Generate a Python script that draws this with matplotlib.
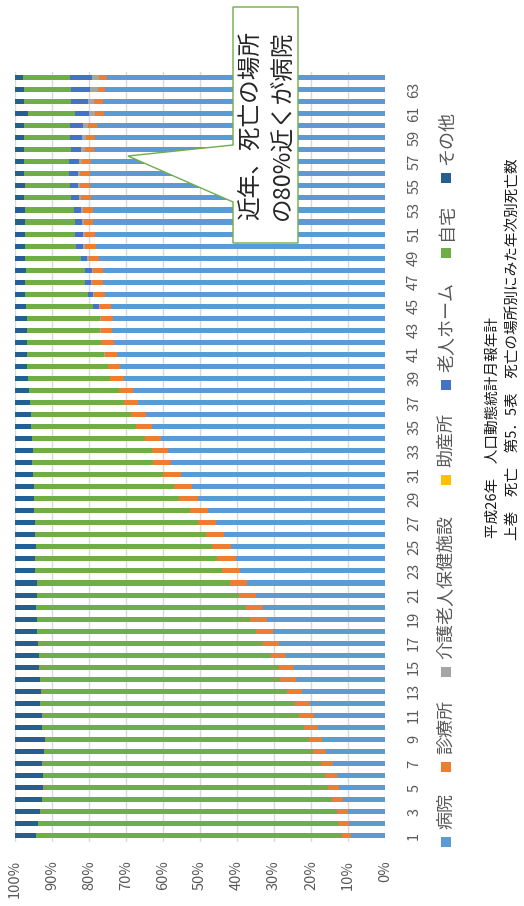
import matplotlib
matplotlib.use("Agg")
import matplotlib.pyplot as plt
import numpy as np
from matplotlib.patches import Polygon, Rectangle

plt.rcParams['font.family'] = ['Noto Sans CJK JP', 'DejaVu Sans']

# 年次（昭和26年=1 … 平成26年=64）
years = list(range(1, 65))

series_names = ["病院", "診療所", "介護老人保健施設", "助産所", "老人ホーム", "自宅", "その他"]
series_colors = ["#5B9BD5", "#ED7D31", "#A5A5A5", "#FFC000", "#4472C4", "#70AD47", "#255E91"]

hospital = [
    9.1, 9.7, 10.1, 11.4, 12.3, 13.0, 14.1, 16.0, 17.0, 18.2,
    19.3, 20.4, 22.3, 24.1, 24.6, 26.8, 28.6, 30.2, 31.9, 32.9,
    35.0, 37.2, 39.1, 40.4, 41.7, 43.5, 45.8, 47.8, 50.6, 52.2,
    55.0, 57.8, 58.7, 60.6, 63.0, 64.6, 66.7, 68.2, 70.6, 71.7,
    72.3, 73.3, 73.7, 73.6, 74.1, 75.8, 76.2, 76.1, 77.2, 78.2,
    78.5, 78.8, 79.0, 79.5, 79.8, 79.8, 79.4, 78.6, 78.4, 77.9,
    76.0, 76.2, 75.6, 75.2,
]
clinic = [
    2.6, 2.6, 2.8, 3.0, 3.1, 3.3, 3.3, 3.5, 3.6, 3.6,
    4.0, 3.9, 4.1, 4.2, 4.0, 3.9, 4.3, 4.6, 4.5, 4.6,
    4.5, 4.8, 5.0, 4.9, 5.0, 4.8, 4.8, 5.0, 5.0, 4.8,
    4.9, 4.8, 4.4, 4.4, 4.3, 4.1, 3.9, 3.8, 3.6, 3.3,
    3.5, 3.4, 3.1, 3.1, 3.0, 2.9, 3.0, 2.9, 2.9, 2.8,
    2.6, 2.6, 2.6, 2.7, 2.6, 2.5, 2.5, 2.5, 2.5, 2.4,
    2.4, 2.4, 2.1, 2.1,
]
care_facility = [
    0.0, 0.0, 0.0, 0.0, 0.0, 0.0, 0.0, 0.0, 0.0, 0.0,
    0.0, 0.0, 0.0, 0.0, 0.0, 0.0, 0.0, 0.0, 0.0, 0.0,
    0.0, 0.0, 0.0, 0.0, 0.0, 0.0, 0.0, 0.0, 0.0, 0.0,
    0.0, 0.0, 0.0, 0.0, 0.0, 0.0, 0.0, 0.0, 0.0, 0.0,
    0.1, 0.1, 0.1, 0.2, 0.2, 0.3, 0.3, 0.3, 0.4, 0.5,
    0.5, 0.5, 0.5, 0.5, 0.7, 0.8, 0.9, 1.0, 1.1, 1.3,
    1.5, 1.7, 1.9, 2.0,
]
midwifery = [
    0.0, 0.0, 0.0, 0.0, 0.0, 0.0, 0.0, 0.0, 0.0, 0.0,
    0.0, 0.0, 0.0, 0.0, 0.0, 0.0, 0.0, 0.0, 0.0, 0.0,
    0.0, 0.0, 0.0, 0.0, 0.0, 0.0, 0.0, 0.0, 0.0, 0.0,
    0.0, 0.0, 0.0, 0.0, 0.0, 0.0, 0.0, 0.0, 0.0, 0.0,
    0.0, 0.0, 0.0, 0.0, 0.0, 0.0, 0.0, 0.0, 0.0, 0.0,
    0.0, 0.0, 0.0, 0.0, 0.0, 0.0, 0.0, 0.0, 0.0, 0.0,
    0.0, 0.0, 0.0, 0.0,
]
nursing_home = [
    0.0, 0.0, 0.0, 0.0, 0.0, 0.0, 0.0, 0.0, 0.0, 0.0,
    0.0, 0.0, 0.0, 0.0, 0.0, 0.0, 0.0, 0.0, 0.0, 0.0,
    0.0, 0.0, 0.0, 0.0, 0.0, 0.0, 0.0, 0.0, 0.0, 0.0,
    0.0, 0.0, 0.0, 0.0, 0.0, 0.0, 0.0, 0.0, 0.0, 0.0,
    0.0, 0.0, 0.0, 0.0, 1.5, 1.4, 1.5, 1.8, 1.7, 1.9,
    2.1, 2.0, 2.0, 2.2, 2.1, 2.3, 2.5, 2.9, 3.2, 3.5,
    4.0, 4.6, 5.3, 5.8,
]
home = [
    82.5, 81.5, 80.3, 78.2, 77.0, 76.2, 75.3, 72.7, 71.4, 70.9,
    69.4, 68.9, 66.5, 64.9, 65.0, 62.8, 60.9, 59.3, 57.7, 56.7,
    54.6, 52.1, 50.4, 49.2, 47.7, 46.2, 43.9, 42.0, 39.3, 38.0,
    35.2, 32.7, 32.1, 30.4, 28.4, 27.0, 25.3, 24.2, 22.3, 21.8,
    20.9, 20.0, 19.9, 19.9, 18.3, 16.9, 16.3, 15.9, 15.1, 13.9,
    13.6, 13.4, 13.3, 12.7, 12.2, 12.3, 12.4, 12.7, 12.4, 12.6,
    12.6, 12.8, 12.8, 12.8,
]
other = [
    5.8, 6.2, 6.8, 7.4, 7.6, 7.5, 7.3, 7.8, 8.0, 7.3,
    7.3, 6.8, 7.1, 6.8, 6.4, 6.5, 6.2, 5.9, 5.9, 5.8,
    5.9, 5.9, 5.5, 5.5, 5.6, 5.5, 5.5, 5.2, 5.1, 5.0,
    4.9, 4.7, 4.8, 4.6, 4.3, 4.3, 4.1, 3.8, 3.5, 3.2,
    3.2, 3.2, 3.2, 3.2, 2.9, 2.7, 2.7, 3.0, 2.7, 2.7,
    2.7, 2.7, 2.6, 2.4, 2.6, 2.3, 2.3, 2.3, 2.4, 2.3,
    3.5, 2.3, 2.3, 2.1,
]

series = [hospital, clinic, care_facility, midwifery, nursing_home, home, other]

W, H = 524, 906
fig = plt.figure(figsize=(W / 100, H / 100), dpi=100)
fig.patch.set_facecolor("white")

# 100% stacked bars, laid out sideways: categories run bottom -> top,
# the percentage axis runs from 100% (left) to 0% (right)
ax_left, ax_right = 15, 385
ax_top, ax_bottom = 71.6, 841.7
ax = fig.add_axes([ax_left / W, 1 - ax_bottom / H,
                   (ax_right - ax_left) / W, (ax_bottom - ax_top) / H])

data = np.array(series, dtype=float)
data = data / data.sum(axis=0) * 100.0
y = np.array(years)
cum = np.zeros(len(years))
for vals, color, name in zip(data, series_colors, series_names):
    ax.barh(y, vals, left=cum, height=0.42, color=color, linewidth=0,
            label=name, zorder=2)
    cum += vals

ax.set_xlim(100, 0)
ax.set_ylim(0.5, 64.5)
ax.set_xticks(np.arange(0, 101, 10))
ax.set_xticklabels([f"{v}%" for v in range(0, 101, 10)], rotation=90,
                   fontsize=10.5, color="#595959")
odd_years = [v for v in years if v % 2 == 1]
ax.set_yticks(odd_years)
ax.set_yticklabels([str(v) for v in odd_years], rotation=90,
                   fontsize=10.5, color="#595959", va="center")
ax.yaxis.tick_right()
ax.tick_params(axis="x", length=0, pad=13)
ax.tick_params(axis="y", length=0, pad=16)
ax.grid(axis="x", color="#D9D9D9", linewidth=1.0, zorder=0)
ax.set_axisbelow(True)
for s in ax.spines.values():
    s.set_visible(False)

# Overlay in pixel coordinates for legend, callout and source note
ov = fig.add_axes([0, 0, 1, 1], zorder=10)
ov.set_xlim(0, W)
ov.set_ylim(H, 0)
ov.axis("off")
ov.patch.set_alpha(0)

# Legend (vertical, reading bottom -> top)
legend_sq_bottom = [847, 772, 677, 485, 390, 258, 183]
for name, color, yb in zip(series_names, series_colors, legend_sq_bottom):
    ov.add_patch(Rectangle((441, yb - 10), 10, 10, facecolor=color,
                           edgecolor="none"))
    ov.text(446.5, yb - 18, name, rotation=90, ha="center", va="bottom",
            fontsize=13, color="#595959")

# Callout
callout = Polygon([(233, 7), (298, 7), (298, 243), (233, 243), (233, 202),
                   (128, 156), (233, 145)], closed=True,
                  facecolor="white", edgecolor="#70AD47", linewidth=1.0)
ov.add_patch(callout)
ov.text(251, 125, "近年、死亡の場所", rotation=90, ha="center", va="center",
        fontsize=17, color="#262626")
ov.text(282, 125, "の80%近くが病院", rotation=90, ha="center", va="center",
        fontsize=17, color="#262626")

# Source note
ov.text(493, 538, "平成26年　人口動態統計月報年計", rotation=90, ha="center",
        va="bottom", fontsize=10.5, color="#1A1A1A")
ov.text(513, 540, "上巻　死亡　第5．5表　死亡の場所別にみた年次別死亡数",
        rotation=90, ha="center", va="bottom", fontsize=10.5, color="#1A1A1A")

fig.savefig("out.png", dpi=100, facecolor="white")
